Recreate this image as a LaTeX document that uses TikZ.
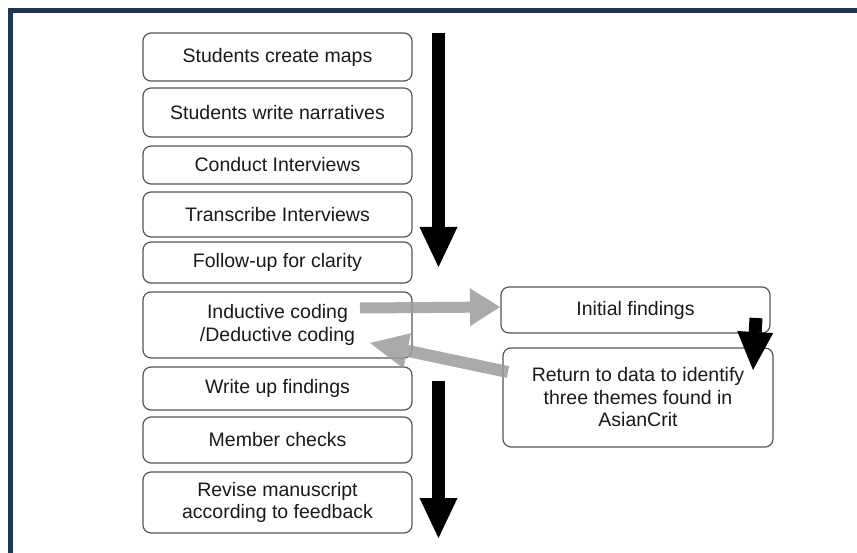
\documentclass[tikz,border=0pt]{standalone}
\usepackage{fontspec}
\setmainfont{Liberation Sans}
\usetikzlibrary{arrows.meta}
\definecolor{framecol}{HTML}{1E3754}
\definecolor{boxcol}{HTML}{555555}
\definecolor{txtcol}{HTML}{1A1A1A}
\definecolor{grayarr}{HTML}{9C9C9C}
\tikzset{
  stepbox/.style={draw=boxcol, line width=1.2pt, rounded corners=8pt, inner sep=0pt,
    text=txtcol, align=center, minimum width=269pt,
    font=\fontsize{19.5}{22.5}\selectfont},
  blackarrow/.style={color=black, line width=13pt},
  grayarrow/.style={color=grayarr, line width=11pt, opacity=0.85, transparency group},
}
\begin{document}
\begin{tikzpicture}[x=1pt,y=-1pt]
\useasboundingbox (0,0) rectangle (857,553);
\fill[white] (0,0) rectangle (857,553);
% frame (only top and left edges visible)
\draw[framecol, line width=5pt] (10.5,560) -- (10.5,10.5) -- (865,10.5);

% left column
\node[stepbox, minimum height=48pt] (s1) at (277.5,57) {Students create maps};
\node[stepbox, minimum height=49pt] (s2) at (277.5,112.5) {Students write narratives};
\node[stepbox, minimum height=38pt] (s3) at (277.5,165) {Conduct Interviews};
\node[stepbox, minimum height=45pt] (s4) at (277.5,214.5) {Transcribe Interviews};
\node[stepbox, minimum height=41pt] (s5) at (277.5,262.5) {Follow-up for clarity};
\node[stepbox, minimum height=66pt] (s6) at (277.5,325) {Inductive coding\\/Deductive coding};
\node[stepbox, minimum height=43pt] (s7) at (277.5,388.5) {Write up findings};
\node[stepbox, minimum height=46pt] (s8) at (277.5,440) {Member checks};
\node[stepbox, minimum height=61pt] (s9) at (277.5,502.5) {Revise manuscript\\according to feedback};

% right column
\node[stepbox, minimum height=46pt] (f1) at (635.5,310) {Initial findings};
\node[stepbox, minimum width=270pt, minimum height=99pt] (f2) at (638,397.5) {Return to data to identify\\three themes found in\\AsianCrit};

% black arrows
\coordinate (a1s) at (438.5,33);
\coordinate (a1e) at (438.5,267);
\coordinate (a2s) at (438.5,381);
\coordinate (a2e) at (438.5,538);
\coordinate (a3s) at (756,318);
\coordinate (a3e) at (753,370);
\draw[blackarrow, -{Triangle[length=40pt,width=38pt,line width=0pt,fill=black]}] (a1s) -- (a1e);
\draw[blackarrow, -{Triangle[length=40pt,width=38pt,line width=0pt,fill=black]}] (a2s) -- (a2e);
\draw[blackarrow, -{Triangle[length=38pt,width=36pt,line width=0pt,fill=black]}] (a3s) -- (a3e);

% gray arrows
\coordinate (g1s) at (360,308);
\coordinate (g1e) at (500,307);
\coordinate (g2s) at (508,372);
\coordinate (g2e) at (370,343);
\draw[grayarrow, -{Triangle[length=30pt,width=38pt,line width=0pt,fill=grayarr]}] (g1s) -- (g1e);
\draw[grayarrow, line width=12pt, -{Triangle[length=38pt,width=36pt,line width=0pt,fill=grayarr]}] (g2s) -- (g2e);
\end{tikzpicture}
\end{document}
